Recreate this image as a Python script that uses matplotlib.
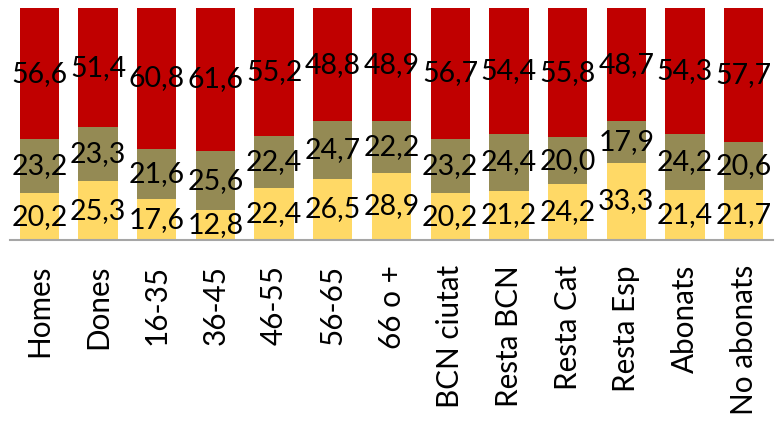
import matplotlib
matplotlib.use("Agg")
import matplotlib.pyplot as plt
import numpy as np

# %%
categories = ["Homes", "Dones", "16-35", "36-45", "46-55", "56-65", "66 o +",
              "BCN ciutat", "Resta BCN", "Resta Cat", "Resta Esp", "Abonats", "No abonats"]
low = [20.2, 25.3, 17.6, 12.8, 22.4, 26.5, 28.9, 20.2, 21.2, 24.2, 33.3, 21.4, 21.7]
mid = [23.2, 23.3, 21.6, 25.6, 22.4, 24.7, 22.2, 23.2, 24.4, 20.0, 17.9, 24.2, 20.6]
high = [56.6, 51.4, 60.8, 61.6, 55.2, 48.8, 48.9, 56.7, 54.4, 55.8, 48.7, 54.3, 57.7]

colors = ["#FFD966", "#948A54", "#C00000"]

# %%
plt.rcParams['font.family'] = ['Lato', 'DejaVu Sans']

fig = plt.figure(figsize=(7.82, 4.24), dpi=100)
ax = fig.add_axes([10 / 782, 1 - 240 / 424, 763 / 782, 232 / 424])

x = np.arange(len(categories))
bottom = np.zeros(len(categories))
for vals, col in zip([low, mid, high], colors):
    vals = np.array(vals)
    ax.bar(x, vals, bottom=bottom, width=0.67, color=col)
    for xi, b, v in zip(x, bottom, vals):
        ax.text(xi, b + v / 2, f"{v:.1f}".replace(".", ","), ha="center", va="center",
                fontsize=20.5, color="black")
    bottom += vals

ax.set_xlim(-0.5, len(categories) - 0.5)
ax.set_ylim(0, 100)
ax.set_yticks([])
ax.set_xticks(x)
ax.set_xticklabels(categories, rotation=90, fontsize=21.3)
ax.tick_params(axis="x", length=0, pad=18)
for s in ["top", "right", "left"]:
    ax.spines[s].set_visible(False)
ax.spines["bottom"].set_color("#A6A6A6")
ax.spines["bottom"].set_linewidth(1.5)

fig.savefig("out.png", dpi=100)
